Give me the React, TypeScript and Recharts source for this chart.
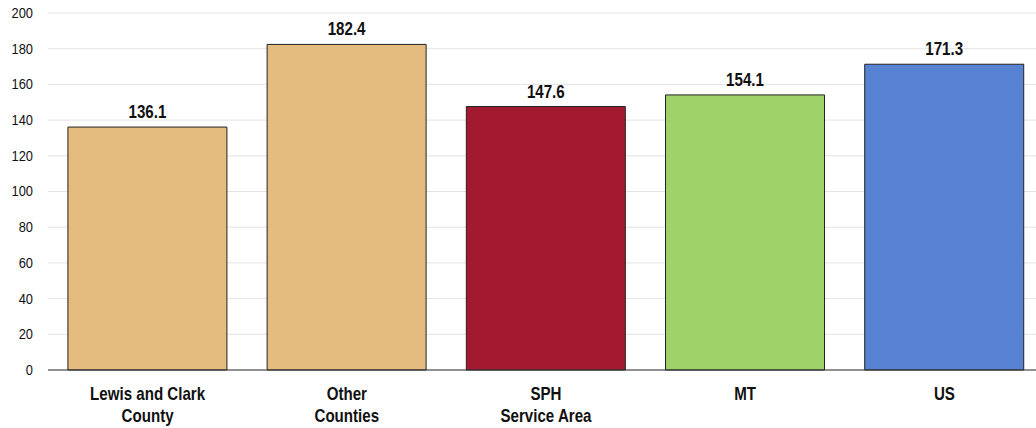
import React from "react";
import { BarChart, Bar, XAxis, YAxis, CartesianGrid, LabelList, Cell } from "recharts";

const categories = ["Lewis and Clark\nCounty", "Other\nCounties", "SPH\nService Area", "MT", "US"];
const values = [136.1, 182.4, 147.6, 154.1, 171.3];
const colors = ["#E4BC7F", "#E4BC7F", "#A31A30", "#A0D26A", "#5882D2"];
const yTicks = [0, 20, 40, 60, 80, 100, 120, 140, 160, 180, 200];

const data = categories.map((c, i) => ({ name: c, value: values[i] }));

const FONT = "'Liberation Sans', Arial, sans-serif";
const NARROW = 0.84;

const squeeze = (x: number, s: number) => `translate(${x},0) scale(${s},1) translate(${-x},0)`;

const CatTick = (props: any) => {
  const { x, y, payload } = props;
  const lines = String(payload.value).split("\n");
  return (
    <g transform={squeeze(x, NARROW)}>
      <text x={x} y={y} textAnchor="middle" fontFamily={FONT} fontWeight="bold" fontSize={18} fill="#111">
        {lines.map((l, i) => (
          <tspan key={i} x={x} dy={i === 0 ? 22 : 22}>
            {l}
          </tspan>
        ))}
      </text>
    </g>
  );
};

const ValTick = (props: any) => {
  const { x, y, payload } = props;
  return (
    <g transform={squeeze(x, 0.92)}>
      <text x={x} y={y} dy={5} textAnchor="end" fontFamily={FONT} fontSize={14} fill="#111">
        {payload.value}
      </text>
    </g>
  );
};

const ValueLabel = (props: any) => {
  const { x, y, width, value } = props;
  const cx = Number(x) + Number(width) / 2;
  return (
    <g transform={squeeze(cx, NARROW)}>
      <text x={cx} y={Number(y) - 9} textAnchor="middle" fontFamily={FONT} fontWeight="bold" fontSize={18} fill="#111">
        {Number(value).toFixed(1)}
      </text>
    </g>
  );
};

export default function App() {
  return (
    <div style={{ position: "absolute", left: 0, top: 0, width: 1036, height: 428, overflow: "hidden", background: "#fff" }}>
      <BarChart
        width={1044}
        height={428}
        data={data}
        margin={{ top: 13, right: 0, left: 0, bottom: 0 }}
        barCategoryGap="10%"
      >
        <CartesianGrid vertical={false} stroke="#e3e3e3" strokeWidth={1} />
        <XAxis
          dataKey="name"
          height={58}
          tick={<CatTick />}
          tickLine={false}
          axisLine={{ stroke: "#333", strokeWidth: 1 }}
          interval={0}
        />
        <YAxis
          width={48}
          domain={[0, 200]}
          ticks={yTicks}
          tickLine={false}
          axisLine={false}
          tickSize={0}
          tickMargin={15}
          tick={<ValTick />}
        />
        <Bar dataKey="value" stroke="#222" strokeWidth={1} isAnimationActive={false}>
          {data.map((d, i) => (
            <Cell key={i} fill={colors[i]} />
          ))}
          <LabelList dataKey="value" content={<ValueLabel />} />
        </Bar>
      </BarChart>
    </div>
  );
}
